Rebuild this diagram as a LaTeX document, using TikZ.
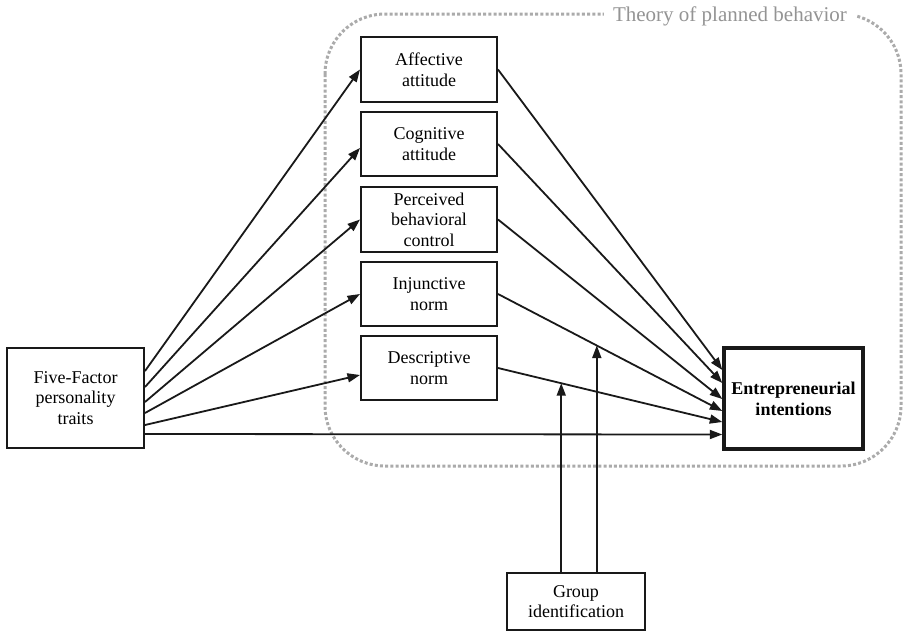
\documentclass[tikz,border=0pt]{standalone}
\usepackage{fontspec}
\setmainfont{Liberation Serif}
\usetikzlibrary{arrows.meta,calc}
\begin{document}
\begin{tikzpicture}[x=1pt,y=-1pt,
  box/.style={draw=black!90,line width=2pt,minimum width=136pt,minimum height=64pt,inner sep=0pt,align=center,font=\fontsize{18}{20.5}\selectfont},
  conn/.style={line width=1.8pt,draw=black!90,-{Triangle[length=12.5pt,width=9pt]}},
  frame/.style={draw=black!33,line width=3pt,dash pattern=on 3pt off 2.2pt,rounded corners=60pt},
  framelabel/.style={fill=white,text=black!42,inner xsep=9pt,inner ysep=2pt,font=\fontsize{21}{24}\selectfont}
]
\useasboundingbox (0,0) rectangle (903,632);
% frame
\draw[frame] (325,14) rectangle (901,466);
\node[framelabel] (tpb) at (730,16) {Theory of planned behavior};
% nodes
\node[box,minimum width=137pt,minimum height=100pt] (F) at (75.5,398) {Five-Factor\\personality\\traits};
\node[box,minimum height=65pt] (A) at (429,69.5) {Affective\\attitude};
\node[box] (C) at (429,144) {Cognitive\\attitude};
\node[box,minimum height=65pt] (P) at (429,219.5) {Perceived\\behavioral\\control};
\node[box] (I) at (429,294) {Injunctive\\norm};
\node[box] (D) at (429,368) {Descriptive\\norm};
\node[box,line width=3.4pt,minimum width=139pt,minimum height=101pt,font=\fontsize{18}{21}\selectfont\bfseries] (E) at (793.5,398.5) {Entrepreneurial\\intentions};
\node[box,minimum width=138pt,minimum height=57pt] (G) at (576,601.5) {Group\\identification};
% Five-Factor to TPB components
\draw[conn] ([yshift=27pt]F.east) -- (A.west);
\draw[conn] ([yshift=11pt]F.east) -- ([yshift=-4pt]C.west);
\draw[conn] ([yshift=-4pt]F.east) -- (P.west);
\draw[conn] ([yshift=-15pt]F.east) -- (I.west);
\draw[conn] ([yshift=-27pt]F.east) -- ([yshift=-7pt]D.west);
\draw[conn] ([yshift=-36pt]F.east) -- ([yshift=-36pt]E.west);
% components to intentions
\draw[conn] (A.east) -- ([yshift=28.5pt]E.west);
\draw[conn] (C.east) -- ([yshift=15.5pt]E.west);
\draw[conn] (P.east) -- ([yshift=-0.5pt]E.west);
\draw[conn] (I.east) -- coordinate[pos=0.4405] (mI) ([yshift=-12.5pt]E.west);
\draw[conn] (D.east) -- coordinate[pos=0.282] (mD) ([yshift=-23.5pt]E.west);
% moderation
\draw[conn] (G.north -| mD) -- (mD);
\draw[conn] (G.north -| mI) -- (mI);
\end{tikzpicture}
\end{document}
